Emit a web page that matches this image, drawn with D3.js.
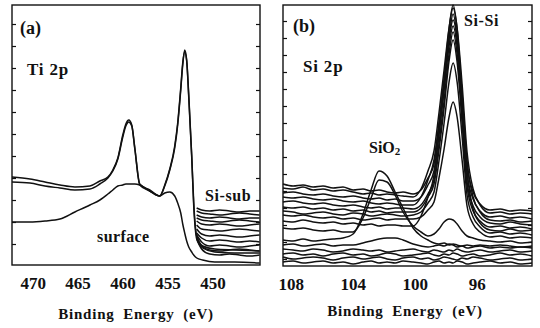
<!DOCTYPE html>
<html>
<head>
<meta charset="utf-8">
<script src="https://cdn.jsdelivr.net/npm/d3@7"></script>
<style>
  body { margin: 0; background: #fff; }
  text { font-family: "Liberation Serif", "Times New Roman", serif; font-weight: bold; fill: #111; }
</style>
</head>
<body>
<script>
// ---- panel (a) Ti 2p ----
const tiEnergy = [472.3, 470.3, 468.63, 466.97, 465.3, 463.63, 462.52, 461.63, 461.08, 460.52,
  459.97, 459.63, 459.3, 458.97, 458.63, 458.08, 456.97, 455.86, 455.3, 454.74,
  454.19, 453.86, 453.52, 453.3, 453.08, 452.86, 452.63, 452.3, 452.08, 451.74,
  451.08, 449.74, 447.52, 444.74];
const tiBulk1 = [88, 86, 83, 80, 78, 79, 84, 88, 95, 107, 130, 141, 145, 140, 117, 81, 75, 69, 79, 95,
  117, 140, 175, 200, 215, 205, 170, 110, 63, 29, 19, 16, 15, 14];
const tiBulk2 = [83, 82, 79, 77, 75, 76, 81, 87, 94, 106, 128, 139, 143, 139, 116, 80, 74, 69, 80, 96,
  119, 142, 177, 202, 213, 204, 168, 108, 60, 26, 17, 13, 12, 12];
const tiSurface = [43, 43, 44, 46, 53, 60, 65, 71, 75, 79, 80, 81, 81, 81, 81, 80, 74, 69, 72, 73,
  69, 62, 52, 41, 32, 24, 18, 13, 10, 7, 5, 3, 3, 2];

// Si substrate spectra, only the tail right of the Ti peaks
const subEnergy = [451.75, 451.2, 450.3, 449.2, 448.1, 447.0, 445.85, 444.75];
const subLines = [
  [57, 55, 54, 55, 54, 53, 54, 54],
  [54, 52, 51, 50, 51, 52, 51, 50],
  [50, 48, 47, 48, 47, 46, 47, 47],
  [47, 45, 44, 43, 44, 45, 44, 43],
  [44, 41, 40, 41, 40, 39, 40, 41],
  [40, 36, 35, 34, 35, 36, 35, 34],
  [36, 31, 29, 30, 29, 28, 29, 30],
  [32, 27, 24, 25, 24, 23, 24, 23],
  [30, 23, 19, 20, 19, 18, 19, 20],
  [28, 19, 15, 14, 15, 16, 15, 14],
  [26, 16, 11, 10, 11, 10, 9, 10]
];
const tiTicks = [470, 465, 460, 455, 450];

// ---- panel (b) Si 2p ----
const siEnergy = [108.5, 107.85, 107.21, 106.56, 105.92, 105.27, 104.63, 103.98, 103.34, 102.82,
  102.31, 101.79, 101.27, 100.76, 100.11, 99.6, 99.15, 98.76, 98.44, 98.11,
  97.79, 97.53, 97.27, 96.95, 96.63, 96.24, 95.79, 95.15, 94.5, 93.85, 93.21, 92.44];
const siSi1 = [82, 80, 81, 79, 80, 78, 79, 76, 77, 75, 76, 74, 73, 74, 72, 76, 88, 102, 141, 187, 237, 261, 237, 171, 101, 74, 62, 56, 57, 55, 56, 55];
const siSi2 = [78, 77, 79, 76, 77, 75, 76, 74, 72, 73, 71, 72, 71, 70, 69, 77, 95, 115, 153, 196, 238, 258, 238, 182, 114, 77, 61, 53, 54, 52, 53, 52];
const siSi3 = [73, 74, 72, 71, 72, 70, 69, 70, 68, 67, 68, 66, 67, 65, 65, 69, 81, 95, 133, 178, 228, 252, 228, 163, 93, 67, 55, 49, 50, 48, 49, 47];
const siSi4 = [69, 68, 69, 67, 66, 67, 65, 64, 65, 63, 62, 63, 62, 61, 61, 69, 86, 106, 143, 185, 227, 246, 227, 172, 105, 69, 54, 46, 45, 46, 44, 45];
const siSi5 = [64, 65, 63, 62, 63, 61, 60, 61, 59, 58, 59, 57, 58, 58, 57, 61, 72, 86, 122, 165, 212, 234, 212, 151, 84, 60, 49, 43, 42, 44, 42, 41];
const siSi6 = [59, 58, 59, 57, 58, 56, 57, 55, 56, 54, 55, 53, 54, 54, 54, 58, 69, 82, 116, 158, 205, 226, 204, 144, 80, 55, 45, 39, 40, 38, 39, 37];
const siSi7 = [55, 54, 52, 53, 54, 52, 51, 53, 52, 50, 51, 52, 51, 50, 51, 54, 63, 74, 105, 143, 184, 203, 184, 130, 71, 49, 39, 33, 34, 32, 33, 31];
const siSi8 = [51, 50, 51, 49, 48, 49, 47, 48, 46, 47, 48, 46, 47, 47, 47, 49, 56, 64, 88, 117, 149, 164, 149, 106, 60, 42, 34, 29, 30, 28, 29, 28];
const siSi9 = [45, 44, 46, 44, 43, 44, 42, 43, 41, 42, 40, 41, 41, 40, 40, 50, 69, 91, 131, 176, 220, 240, 220, 163, 94, 57, 43, 36, 35, 37, 35, 36];
const siO2a = [26, 25, 27, 25, 26, 27, 28, 32, 52, 76, 95, 90, 74, 58, 38, 30, 26, 23, 22, 23, 21, 22, 21, 20, 21, 20, 21, 20, 21, 20, 19, 20];
const siO2b = [38, 37, 38, 36, 35, 36, 34, 34, 48, 68, 86, 84, 71, 54, 40, 34, 30, 32, 37, 44, 47, 46, 42, 35, 30, 28, 26, 25, 24, 25, 23, 24];
const siLow1 = [21, 22, 20, 21, 22, 20, 21, 21, 23, 25, 27, 28, 28, 26, 22, 20, 19, 20, 21, 20, 22, 21, 19, 20, 18, 19, 20, 18, 19, 18, 19, 18];
const siLow2 = [17, 16, 15, 17, 16, 14, 15, 17, 16, 15, 16, 14, 15, 16, 17, 15, 14, 16, 15, 14, 16, 15, 17, 15, 14, 15, 16, 14, 15, 16, 14, 15];
const siLow3 = [12, 13, 11, 12, 10, 12, 13, 11, 12, 10, 11, 13, 12, 10, 11, 12, 13, 11, 10, 12, 11, 13, 12, 10, 11, 12, 10, 11, 13, 11, 12, 10];
const siLow4 = [9, 7, 8, 9, 8, 6, 8, 9, 7, 8, 9, 7, 6, 8, 9, 7, 8, 6, 7, 9, 8, 7, 6, 8, 7, 9, 8, 6, 7, 8, 6, 7];
const siLow5 = [4, 5, 3, 4, 5, 3, 4, 2, 4, 5, 3, 4, 3, 5, 4, 3, 2, 4, 5, 3, 4, 3, 5, 4, 2, 3, 4, 5, 3, 4, 2, 3];
const siTicks = [108, 104, 100, 96];

var width = 540,
    height = 328;

var svg = d3.select("body").append("svg")
    .attr("width", width)
    .attr("height", height);

const xA = d3.scaleLinear().domain([472.3, 444.7]).range([12, 260]);
const yA = d3.scaleLinear().domain([0, 260]).range([265, 5]);
const xB = d3.scaleLinear().domain([108.5, 92.44]).range([283, 532]);
const yB = d3.scaleLinear().domain([0, 261]).range([266, 5]);

function frame(x, y, ticks, sideTicks, titleX, titleY) {
    const [x0, x1] = x.range();
    const [y1, y0] = y.range();
    const g = svg.append("g");

    g.append("rect")
        .attr("x", x0).attr("y", y0)
        .attr("width", x1 - x0).attr("height", y1 - y0)
        .attr("fill", "none")
        .attr("stroke", "#111")
        .attr("stroke-width", 1.4);

    // small inward ticks on both sides
    const left = g.append("g").attr("transform", `translate(${x0},0)`)
        .call(d3.axisLeft(y).tickValues(sideTicks).tickSize(-4).tickFormat(""));
    const right = g.append("g").attr("transform", `translate(${x1},0)`)
        .call(d3.axisRight(y).tickValues(sideTicks).tickSize(-4).tickFormat(""));
    [left, right].forEach(a => {
        a.select(".domain").remove();
        a.selectAll("line").attr("stroke", "#111").attr("stroke-width", 1.2);
    });

    const bottom = g.append("g").attr("transform", `translate(0,${y1})`)
        .call(d3.axisBottom(x).tickValues(ticks).tickSize(0).tickPadding(12));
    bottom.select(".domain").remove();
    bottom.attr("font-family", null).attr("font-size", null);
    bottom.selectAll("text").attr("font-size", 17).attr("fill", "#111");

    g.append("text")
        .attr("x", titleX).attr("y", titleY)
        .attr("text-anchor", "middle")
        .attr("font-size", 15)
        .attr("letter-spacing", 0.8)
        .attr("word-spacing", 4)
        .text("Binding Energy (eV)");
}

function plot(x, y, energies, values) {
    const line = d3.line()
        .x(d => x(d[0]))
        .y(d => y(d[1]))
        .curve(d3.curveMonotoneX);
    svg.append("path")
        .datum(d3.zip(energies, values))
        .attr("d", line)
        .attr("fill", "none")
        .attr("stroke", "#111")
        .attr("stroke-width", 1.5)
        .attr("stroke-linejoin", "round");
}

function label(x, y, txt, size) {
    return svg.append("text").attr("x", x).attr("y", y).attr("font-size", size).text(txt);
}

// panel (a)
frame(xA, yA, tiTicks, d3.range(21, 255, 22), 136, 319);
subLines.forEach(v => plot(xA, yA, subEnergy, v));
plot(xA, yA, tiEnergy, tiSurface);
plot(xA, yA, tiEnergy, tiBulk2);
plot(xA, yA, tiEnergy, tiBulk1);

label(20, 34, "(a)", 18);
label(27, 75, "Ti 2p", 17).attr("letter-spacing", 0.8);
label(205, 201, "Si-sub", 16).attr("letter-spacing", 0.6);
label(97, 242, "surface", 16).attr("letter-spacing", 0.4);

// panel (b)
frame(xB, yB, siTicks, d3.range(7, 255, 17), 405, 316);
[siLow5, siLow4, siLow3, siLow2, siLow1, siO2a, siO2b,
 siSi9, siSi8, siSi7, siSi6, siSi5, siSi4, siSi3, siSi2, siSi1]
    .forEach(v => plot(xB, yB, siEnergy, v));

label(293, 32, "(b)", 18);
label(303, 72, "Si 2p", 17).attr("letter-spacing", 0.8);
label(464, 26, "Si-Si", 16).attr("letter-spacing", 0.6);
const sio2 = label(369, 153, "SiO", 16);
sio2.append("tspan").attr("font-size", 11).attr("dy", 2).text("2");
</script>
</body>
</html>
